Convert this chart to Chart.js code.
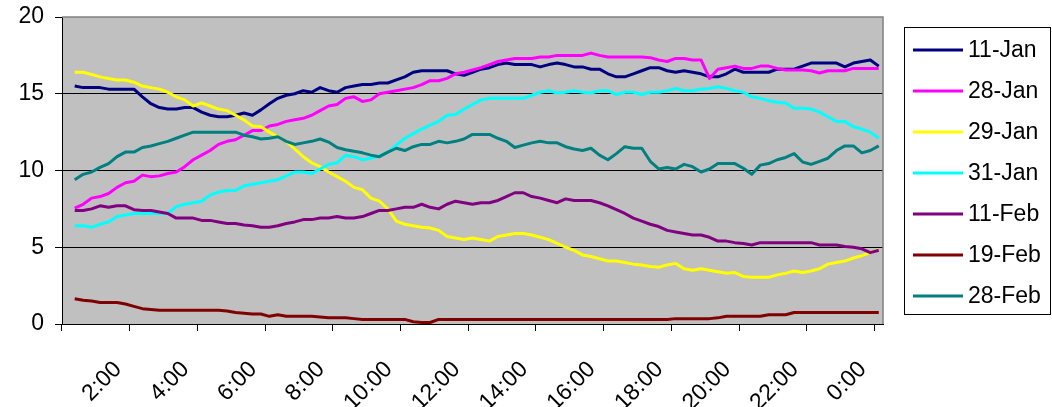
<!DOCTYPE html>
<html>
<head>
<meta charset="utf-8">
<title>Daily profiles</title>
<script src="https://cdn.jsdelivr.net/npm/chart.js@4/dist/chart.umd.min.js"></script>
<style>
  html, body { margin: 0; padding: 0; background: #fff; }
  canvas { display: block; }
</style>
</head>
<body>
<canvas id="chart" width="1052" height="407"></canvas>
<script>
// Quarter-hour slots; the first 0:00 slot has no reading.
const times = [
  '0:00','0:15','0:30','0:45','1:00','1:15','1:30','1:45','2:00','2:15','2:30','2:45',
  '3:00','3:15','3:30','3:45','4:00','4:15','4:30','4:45','5:00','5:15','5:30','5:45',
  '6:00','6:15','6:30','6:45','7:00','7:15','7:30','7:45','8:00','8:15','8:30','8:45',
  '9:00','9:15','9:30','9:45','10:00','10:15','10:30','10:45','11:00','11:15','11:30','11:45',
  '12:00','12:15','12:30','12:45','13:00','13:15','13:30','13:45','14:00','14:15','14:30','14:45',
  '15:00','15:15','15:30','15:45','16:00','16:15','16:30','16:45','17:00','17:15','17:30','17:45',
  '18:00','18:15','18:30','18:45','19:00','19:15','19:30','19:45','20:00','20:15','20:30','20:45',
  '21:00','21:15','21:30','21:45','22:00','22:15','22:30','22:45','23:00','23:15','23:30','23:45',
  '0:00'
];

const seriesNames  = ['11-Jan', '28-Jan', '29-Jan', '31-Jan', '11-Feb', '19-Feb', '28-Feb'];
const seriesColors = ['#000080', '#FF00FF', '#FFFF00', '#00FFFF', '#800080', '#800000', '#008080'];

// Readings from 0:15 to 0:00 (next day), one per quarter hour.
const jan11 = [
  15.5, 15.4, 15.4, 15.4, 15.3, 15.3, 15.3, 15.3, 14.8, 14.35, 14.1, 14.0,
  14.0, 14.1, 14.1, 13.8, 13.6, 13.5, 13.5, 13.6, 13.75, 13.6, 13.95, 14.35,
  14.7, 14.9, 15.0, 15.2, 15.1, 15.4, 15.2, 15.1, 15.4, 15.5, 15.6, 15.6,
  15.7, 15.7, 15.9, 16.1, 16.4, 16.5, 16.5, 16.5, 16.5, 16.3, 16.2, 16.4,
  16.6, 16.7, 16.9, 17.0, 16.9, 16.9, 16.9, 16.75, 16.9, 17.0, 16.9, 16.75,
  16.75, 16.6, 16.6, 16.3, 16.1, 16.1, 16.3, 16.5, 16.7, 16.7, 16.5, 16.4,
  16.5, 16.4, 16.3, 16.1, 16.1, 16.3, 16.6, 16.4, 16.4, 16.4, 16.4, 16.6,
  16.6, 16.6, 16.8, 17.0, 17.0, 17.0, 17.0, 16.75, 17.0, 17.1, 17.2, 16.8
];
const jan28 = [
  7.55, 7.8, 8.2, 8.3, 8.5, 8.9, 9.2, 9.3, 9.7, 9.6, 9.65, 9.8,
  9.9, 10.25, 10.7, 11.0, 11.3, 11.7, 11.9, 12.0, 12.3, 12.6, 12.6, 12.9,
  13.0, 13.2, 13.3, 13.4, 13.6, 13.9, 14.2, 14.3, 14.7, 14.8, 14.5, 14.6,
  15.0, 15.1, 15.2, 15.3, 15.4, 15.6, 15.85, 15.85, 16.0, 16.3, 16.4, 16.55,
  16.7, 16.9, 17.1, 17.2, 17.3, 17.3, 17.3, 17.4, 17.4, 17.5, 17.5, 17.5,
  17.5, 17.65, 17.5, 17.4, 17.4, 17.4, 17.4, 17.4, 17.35, 17.2, 17.1, 17.3,
  17.3, 17.2, 17.2, 16.0, 16.6, 16.7, 16.8, 16.65, 16.65, 16.8, 16.8, 16.65,
  16.55, 16.55, 16.55, 16.5, 16.35, 16.5, 16.5, 16.5, 16.65, 16.65, 16.65, 16.65
];
const jan29 = [
  16.4, 16.4, 16.25, 16.1, 16.0, 15.9, 15.9, 15.75, 15.5, 15.4, 15.3, 15.1,
  14.8, 14.6, 14.2, 14.4, 14.2, 14.0, 13.9, 13.6, 13.3, 12.9, 12.85, 12.5,
  12.2, 11.9, 11.4, 10.9, 10.5, 10.25, 9.9, 9.6, 9.3, 8.9, 8.75, 8.2,
  8.0, 7.5, 6.7, 6.5, 6.4, 6.3, 6.25, 6.1, 5.7, 5.6, 5.5, 5.6,
  5.5, 5.4, 5.7, 5.8, 5.9, 5.9, 5.8, 5.65, 5.5, 5.25, 5.0, 4.8,
  4.5, 4.4, 4.25, 4.1, 4.1, 4.0, 3.9, 3.85, 3.75, 3.7, 3.85, 3.95,
  3.6, 3.5, 3.6, 3.5, 3.4, 3.3, 3.35, 3.1, 3.05, 3.05, 3.05, 3.2,
  3.3, 3.45, 3.35, 3.45, 3.6, 3.9, 4.0, 4.1, 4.3, 4.45, 4.65, 4.85
];
const jan31 = [
  6.4, 6.4, 6.3, 6.5, 6.65, 7.0, 7.1, 7.2, 7.2, 7.2, 7.2, 7.2,
  7.65, 7.8, 7.9, 8.0, 8.4, 8.6, 8.7, 8.7, 9.0, 9.1, 9.2, 9.3,
  9.4, 9.65, 9.9, 9.9, 9.8, 10.1, 10.4, 10.5, 11.0, 10.9, 10.7, 10.8,
  10.95, 11.2, 11.65, 12.1, 12.4, 12.7, 12.95, 13.2, 13.6, 13.65, 14.0, 14.3,
  14.6, 14.7, 14.7, 14.7, 14.7, 14.7, 14.9, 15.1, 15.2, 15.05, 15.1, 15.2,
  15.1, 15.05, 15.2, 15.2, 14.95, 15.1, 15.1, 14.95, 15.1, 15.1, 15.2, 15.35,
  15.2, 15.2, 15.3, 15.35, 15.45, 15.35, 15.2, 15.1, 14.8, 14.7, 14.55, 14.45,
  14.4, 14.05, 14.05, 14.0, 13.8, 13.5, 13.2, 13.2, 12.85, 12.7, 12.5, 12.1
];
const feb11 = [
  7.4, 7.4, 7.5, 7.7, 7.6, 7.7, 7.7, 7.45, 7.4, 7.4, 7.3, 7.2,
  6.9, 6.9, 6.9, 6.75, 6.75, 6.65, 6.55, 6.55, 6.45, 6.4, 6.3, 6.3,
  6.4, 6.55, 6.65, 6.8, 6.8, 6.9, 6.9, 7.0, 6.9, 6.9, 7.0, 7.2,
  7.4, 7.4, 7.5, 7.6, 7.6, 7.8, 7.6, 7.5, 7.8, 8.0, 7.9, 7.8,
  7.9, 7.9, 8.05, 8.3, 8.55, 8.55, 8.3, 8.2, 8.05, 7.9, 8.15, 8.05,
  8.05, 8.05, 7.9, 7.7, 7.45, 7.2, 6.9, 6.7, 6.5, 6.35, 6.1, 6.0,
  5.9, 5.8, 5.8, 5.65, 5.4, 5.4, 5.3, 5.25, 5.15, 5.3, 5.3, 5.3,
  5.3, 5.3, 5.3, 5.3, 5.15, 5.15, 5.15, 5.05, 5.0, 4.9, 4.65, 4.8
];
const feb19 = [
  1.65, 1.55, 1.5, 1.4, 1.4, 1.4, 1.3, 1.15, 1.0, 0.95, 0.9, 0.9,
  0.9, 0.9, 0.9, 0.9, 0.9, 0.9, 0.85, 0.75, 0.7, 0.65, 0.65, 0.5,
  0.6, 0.5, 0.5, 0.5, 0.5, 0.45, 0.4, 0.4, 0.4, 0.35, 0.3, 0.3,
  0.3, 0.3, 0.3, 0.3, 0.15, 0.1, 0.1, 0.3, 0.3, 0.3, 0.3, 0.3,
  0.3, 0.3, 0.3, 0.3, 0.3, 0.3, 0.3, 0.3, 0.3, 0.3, 0.3, 0.3,
  0.3, 0.3, 0.3, 0.3, 0.3, 0.3, 0.3, 0.3, 0.3, 0.3, 0.3, 0.35,
  0.35, 0.35, 0.35, 0.35, 0.4, 0.5, 0.5, 0.5, 0.5, 0.5, 0.6, 0.6,
  0.6, 0.75, 0.75, 0.75, 0.75, 0.75, 0.75, 0.75, 0.75, 0.75, 0.75, 0.75
];
const feb28 = [
  9.4, 9.75, 9.9, 10.2, 10.45, 10.9, 11.2, 11.2, 11.5, 11.6, 11.75, 11.9,
  12.1, 12.3, 12.5, 12.5, 12.5, 12.5, 12.5, 12.5, 12.3, 12.2, 12.05, 12.1,
  12.2, 11.9, 11.7, 11.8, 11.9, 12.05, 11.85, 11.5, 11.35, 11.25, 11.15, 11.0,
  10.9, 11.2, 11.45, 11.3, 11.55, 11.7, 11.7, 11.9, 11.8, 11.9, 12.05, 12.35,
  12.35, 12.35, 12.1, 11.9, 11.5, 11.65, 11.8, 11.9, 11.8, 11.8, 11.55, 11.4,
  11.3, 11.45, 11.0, 10.7, 11.1, 11.55, 11.45, 11.45, 10.6, 10.1, 10.2, 10.1,
  10.4, 10.25, 9.9, 10.1, 10.45, 10.45, 10.45, 10.15, 9.75, 10.35, 10.45, 10.7,
  10.85, 11.1, 10.55, 10.4, 10.6, 10.8, 11.3, 11.6, 11.6, 11.15, 11.3, 11.6
];

const yTicks = [0, 5, 10, 15, 20];
const labelEvery = 8;   // one label / tick mark every two hours

const seriesValues = [jan11, jan28, jan29, jan31, feb11, feb19, feb28];
const FONT = "'Liberation Sans', Arial, sans-serif";
Chart.defaults.font.family = FONT;
Chart.defaults.color = '#000';

// Grey plot background and frame, as in a classic spreadsheet chart.
const plotFrame = {
  id: 'plotFrame',
  beforeDraw(chart) {
    const { ctx, chartArea: a } = chart;
    ctx.save();
    ctx.fillStyle = '#C0C0C0';
    ctx.fillRect(a.left, a.top, a.right - a.left, a.bottom - a.top);
    ctx.restore();
  },
  beforeDatasetsDraw(chart) {
    const { ctx, chartArea: a } = chart;
    ctx.save();
    ctx.strokeStyle = '#808080';
    ctx.lineWidth = 1.5;
    ctx.beginPath();
    ctx.moveTo(a.left, a.top);
    ctx.lineTo(a.right, a.top);
    ctx.lineTo(a.right, a.bottom);
    ctx.stroke();
    ctx.restore();
  }
};

// Boxed legend on the right-hand side.
const boxedLegend = {
  id: 'boxedLegend',
  afterDraw(chart) {
    const { ctx, chartArea: a } = chart;
    const left = a.right + 21.5, top = 27.5, w = 146, h = 287;
    const rowH = 41, firstRow = 50;
    ctx.save();
    ctx.strokeStyle = '#000';
    ctx.lineWidth = 1;
    ctx.strokeRect(left, top, w, h);
    ctx.font = '23px ' + FONT;
    ctx.textAlign = 'left';
    ctx.textBaseline = 'middle';
    chart.data.datasets.forEach((ds, i) => {
      const y = firstRow + i * rowH;
      ctx.strokeStyle = ds.borderColor;
      ctx.lineWidth = 3;
      ctx.beginPath();
      ctx.moveTo(left + 8.5, y);
      ctx.lineTo(left + 58.5, y);
      ctx.stroke();
      ctx.fillStyle = '#000';
      ctx.fillText(ds.label, left + 63.5, y + 1);
    });
    ctx.restore();
  }
};

const datasets = seriesNames.map((name, i) => ({
  label: name,
  data: [null].concat(seriesValues[i]),
  borderColor: seriesColors[i],
  backgroundColor: seriesColors[i],
  borderWidth: 3,
  pointRadius: 0,
  pointHoverRadius: 0,
  tension: 0,
  fill: false,
  borderJoinStyle: 'round',
  spanGaps: false,
  order: seriesNames.length - 1 - i
}));

new Chart(document.getElementById('chart'), {
  type: 'line',
  data: { labels: times, datasets },
  plugins: [plotFrame, boxedLegend],
  options: {
    responsive: false,
    animation: false,
    devicePixelRatio: 1,
    layout: { padding: { top: 17, right: 169, bottom: 0, left: 0 } },
    plugins: {
      legend: { display: false },
      tooltip: { enabled: false },
      title: { display: false }
    },
    scales: {
      x: {
        type: 'category',
        offset: true,
        grid: {
          offset: true,
          drawOnChartArea: false,
          tickLength: 7,
          tickWidth: 1,
          tickColor: ctx => (ctx.type === 'tick' && ctx.index % labelEvery === 0) ? '#000' : 'rgba(0,0,0,0)'
        },
        border: { color: '#000', width: 1 },
        ticks: {
          autoSkip: false,
          minRotation: 45,
          maxRotation: 45,
          padding: 25,
          labelOffset: -16,
          color: '#000',
          font: { size: 23 },
          callback: (value, index) => (index > 0 && index % labelEvery === 0) ? times[index] : ''
        },
        afterFit: s => { s.height = 83; s.paddingLeft = 0; s.paddingRight = 0; }
      },
      y: {
        min: yTicks[0],
        max: yTicks[yTicks.length - 1],
        afterBuildTicks: s => { s.ticks = yTicks.map(v => ({ value: v })); },
        grid: {
          color: ctx => (ctx.tick && ctx.tick.value === yTicks[yTicks.length - 1]) ? 'rgba(0,0,0,0)' : '#000',
          tickColor: '#000',
          tickLength: 7,
          lineWidth: 1
        },
        border: { color: '#000', width: 1 },
        ticks: { padding: 11, color: '#000', font: { size: 23 } },
        afterFit: s => { s.width = 62; s.paddingTop = 0; s.paddingBottom = 0; }
      }
    }
  }
});
</script>
</body>
</html>
